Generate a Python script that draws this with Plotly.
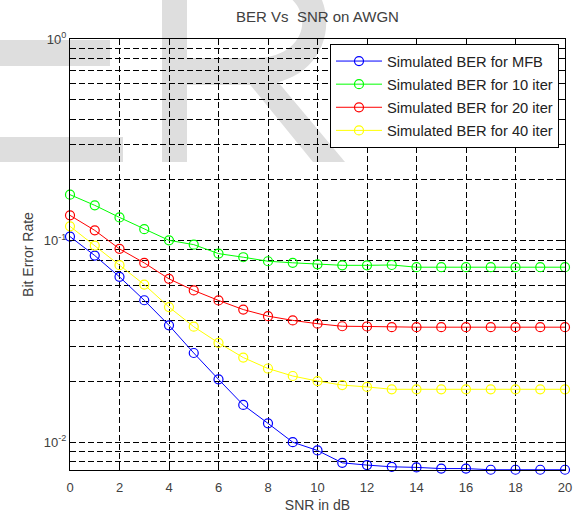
import plotly.graph_objects as go
import math

# ---- data ----
snr_db = list(range(0, 21))
ber_mfb = [0.1047, 0.0843, 0.0661, 0.0506, 0.0380, 0.0277, 0.0205, 0.0153, 0.0124, 0.0100,
           0.0091, 0.0079, 0.0077, 0.00755, 0.0075, 0.0074, 0.0074, 0.0073, 0.0073, 0.0073, 0.0073]
ber_10 = [0.169, 0.1496, 0.1303, 0.114, 0.1003, 0.0955, 0.0862, 0.0827, 0.0790, 0.0776,
          0.0763, 0.0754, 0.0754, 0.0757, 0.0738, 0.0738, 0.0738, 0.0738, 0.0738, 0.0738, 0.0738]
ber_20 = [0.1334, 0.1124, 0.0910, 0.0775, 0.0646, 0.0566, 0.0505, 0.0455, 0.0422, 0.0402,
          0.0387, 0.0376, 0.0375, 0.0372, 0.0372, 0.0372, 0.0372, 0.0372, 0.0372, 0.0372, 0.0372]
ber_40 = [0.1177, 0.0945, 0.0755, 0.0605, 0.0468, 0.0374, 0.0311, 0.0263, 0.0232, 0.0213,
          0.0201, 0.0192, 0.0188, 0.0183, 0.0183, 0.0183, 0.0183, 0.0183, 0.0183, 0.0183, 0.0183]

series_names = ["Simulated BER for MFB", "Simulated BER for 10 iter",
                "Simulated BER for 20 iter", "Simulated BER for 40 iter"]
series_colors = ["#0000ff", "#00ff00", "#ff0000", "#ffff00"]

x_ticks = list(range(0, 21, 2))
y_major = [0.01, 0.1, 1.0]
y_major_text = ["10<sup>-2</sup>", "10<sup>-1</sup>", "10<sup>0</sup>"]
y_minor = [0.008, 0.009, 0.02, 0.03, 0.04, 0.05, 0.06, 0.07, 0.08, 0.09,
           0.2, 0.3, 0.4, 0.5, 0.6, 0.7, 0.8, 0.9]
y_min = 0.00728

# ---- layout geometry ----
W, H = 574, 514
ML, MR, MT, MB = 70, 9, 39, 44
PW, PH = W - ML - MR, H - MT - MB


def pp(x, y):
    return (x - ML) / PW, (H - MB - y) / PH


def path(cmds):
    s = ""
    for cmd, pts in cmds:
        s += cmd + " " + " ".join("%.4f,%.4f" % pp(*p) for p in pts) + " "
    return s + "Z"


wm = "rgb(222,222,222)"
shapes = []
for (x0, y0, x1, y1) in [(0, 40, 110, 66), (0, 137, 123, 162), (162, -5, 187, 162)]:
    a = pp(x0, y1)
    b = pp(x1, y0)
    shapes.append(dict(type="rect", xref="paper", yref="paper", x0=a[0], y0=a[1], x1=b[0], y1=b[1],
                       fillcolor=wm, line=dict(width=0), layer="below"))
bowl = path([("M", [(187, -40)]), ("L", [(255, -40)]),
             ("C", [(350, -40), (350, 85), (255, 85)]), ("L", [(187, 85)]),
             ("L", [(187, 58)]), ("L", [(255, 58)]),
             ("C", [(318, 58), (318, -13), (255, -13)]), ("L", [(187, -13)])])
leg = path([("M", [(238, 70)]), ("L", [(268, 70)]), ("L", [(345, 162)]), ("L", [(313, 162)])])
for p in (bowl, leg):
    shapes.append(dict(type="path", xref="paper", yref="paper", path=p,
                       fillcolor=wm, line=dict(width=0), layer="below"))

fig = go.Figure()
for name, color, vals in zip(series_names, series_colors, [ber_mfb, ber_10, ber_20, ber_40]):
    fig.add_trace(go.Scatter(
        x=snr_db, y=vals, name=name, mode="lines+markers",
        line=dict(color=color, width=1),
        marker=dict(symbol="circle-open", size=9, color=color, line=dict(width=1.2)),
        cliponaxis=False, legendgroup=name,
    ))

font_family = "Liberation Sans, Arial, sans-serif"
grid_dash = "6px,3px"
txt = "#404040"

fig.update_layout(
    width=W, height=H,
    margin=dict(l=ML, r=MR, t=MT, b=MB, autoexpand=False),
    paper_bgcolor="white", plot_bgcolor="rgba(0,0,0,0)",
    font=dict(family=font_family, size=12, color=txt),
    title=dict(text="BER Vs  SNR on AWGN", x=(ML + PW / 2) / W, xanchor="center",
               y=1 - 17 / H, yanchor="middle", font=dict(size=15, color=txt)),
    shapes=shapes,
    showlegend=True,
    legend=dict(x=pp(559, 0)[0], y=pp(0, 44)[1], xanchor="right", yanchor="top",
                bgcolor="white", bordercolor="black", borderwidth=1,
                font=dict(size=14.7, color="#222222"), traceorder="grouped",
                tracegroupgap=1, itemwidth=46),
)

fig.update_xaxes(
    range=[0, 20], tickvals=x_ticks, ticks="inside", ticklen=5, tickcolor="black",
    showline=True, linecolor="black", linewidth=1, mirror="allticks",
    showgrid=True, gridcolor="black", gridwidth=1, griddash=grid_dash,
    zeroline=False, tickfont=dict(size=13, color=txt), ticklabelstandoff=5,
    automargin=False,
    title=dict(text="SNR in dB", font=dict(size=14, color=txt), standoff=6),
)
fig.update_yaxes(
    type="log", range=[math.log10(y_min), 0], tickvals=y_major, ticktext=y_major_text,
    ticks="inside", ticklen=4, tickcolor="black",
    showline=True, linecolor="black", linewidth=1, mirror="allticks",
    showgrid=True, gridcolor="black", gridwidth=1, griddash=grid_dash,
    minor=dict(tickmode="array", tickvals=y_minor, ticks="inside", ticklen=3, tickcolor="black",
               showgrid=True, gridcolor="black", gridwidth=1, griddash=grid_dash),
    zeroline=False, tickfont=dict(size=13, color=txt), automargin=False,
    title=dict(text="Bit Error Rate", font=dict(size=14, color=txt), standoff=6),
)

fig.write_html("out.html")
